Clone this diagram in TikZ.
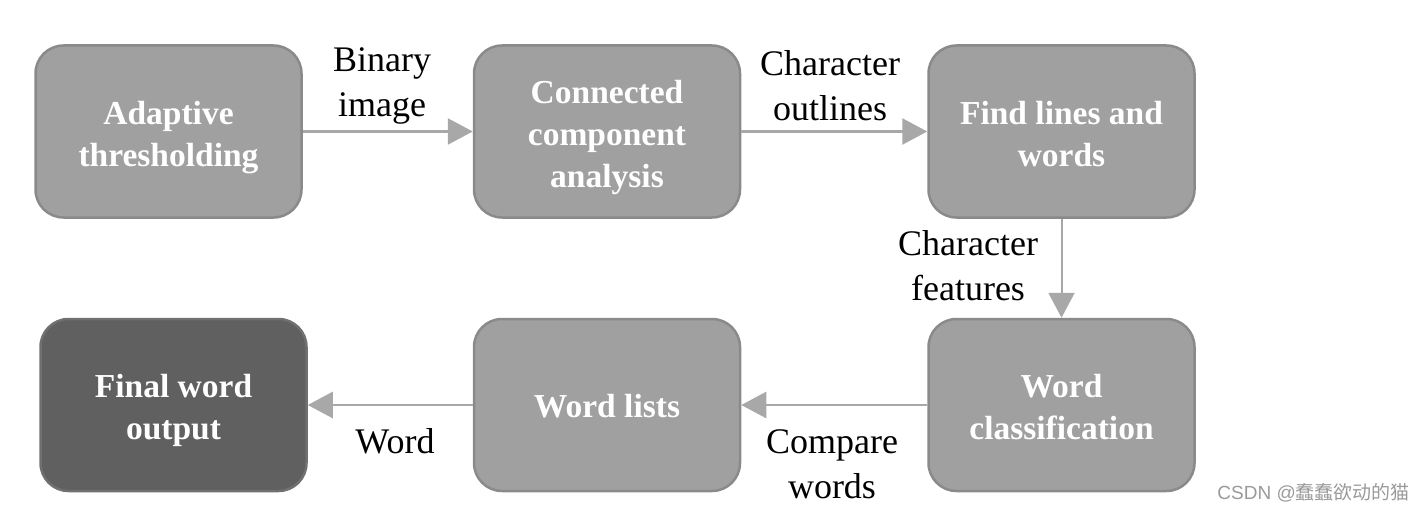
\documentclass[tikz,border=0pt]{standalone}
\usepackage{fontspec}
\setmainfont{Liberation Serif}
\newfontfamily\cjkfont{Noto Sans CJK SC}
\newfontfamily\wmfont{Liberation Sans}
\usetikzlibrary{arrows.meta}
\definecolor{boxfill}{HTML}{A0A0A0}
\definecolor{boxline}{HTML}{8A8A8A}
\definecolor{darkfill}{HTML}{606060}
\definecolor{darkline}{HTML}{707070}
\definecolor{arrowcol}{HTML}{A8A8A8}
\definecolor{wmcol}{HTML}{9A9A9A}
\tikzset{
  procbox/.style={draw=boxline, fill=boxfill, line width=2.5pt, rounded corners=28pt,
    minimum width=266pt, minimum height=172pt, inner sep=0pt},
  finalbox/.style={procbox, fill=darkfill, draw=darkline},
  boxtext/.style={text=white, align=center,
    font=\fontsize{33.5}{42}\selectfont\bfseries, inner sep=0pt},
  conn/.style={draw=arrowcol, line width=2.5pt, -{Triangle[length=25pt,width=26pt]}},
  lbl/.style={align=center, font=\fontsize{36}{45}\selectfont, text=black, inner sep=0pt}
}
\begin{document}
\begin{tikzpicture}[x=1pt,y=-1pt]
\useasboundingbox (0,0) rectangle (1423,511);
\node[procbox] (b1) at (168.5,131.5) {};
\node[procbox] (b2) at (607,131.5) {};
\node[procbox] (b3) at (1061.5,131.5) {};
\node[finalbox] (b4) at (173.5,405) {};
\node[procbox] (b5) at (607,405) {};
\node[procbox] (b6) at (1061.5,405) {};
\node[boxtext] (t1) at ([yshift=-6pt]b1.center) {Adaptive\\thresholding};
\node[boxtext] (t2) at ([yshift=-6pt]b2.center) {Connected\\component\\analysis};
\node[boxtext] (t3) at ([yshift=-3pt]b3.center) {Find lines and\\words};
\node[boxtext] (t4) at ([yshift=-5pt]b4.center) {Final word\\output};
\node[boxtext] (t5) at ([yshift=-1pt]b5.center) {Word lists};
\node[boxtext] (t6) at ([yshift=-2pt]b6.center) {Word\\classification};
\draw[conn] (b1.east) -- (b2.west);
\draw[conn] (b2.east) -- (b3.west);
\draw[conn, line width=2pt] (b3.south) -- (b6.north);
\draw[conn] (b6.west) -- (b5.west -| b5.east);
\draw[conn] (b5.west) -- (b4.east);
\node[lbl] (l1) at (382,86) {Binary\\image};
\node[lbl] (l2) at (830,86) {Character\\outlines};
\node[lbl] (l3) at (968,266) {Character\\features};
\node[lbl] (l4) at (832,464) {Compare\\words};
\node[lbl] (l5) at (395,441) {Word};
\node[font=\fontsize{19}{21}\selectfont, text=wmcol, anchor=east, inner sep=0pt] (wm) at (1410,493) {\wmfont CSDN @\cjkfont 蠢蠢欲动的猫};
\end{tikzpicture}
\end{document}
